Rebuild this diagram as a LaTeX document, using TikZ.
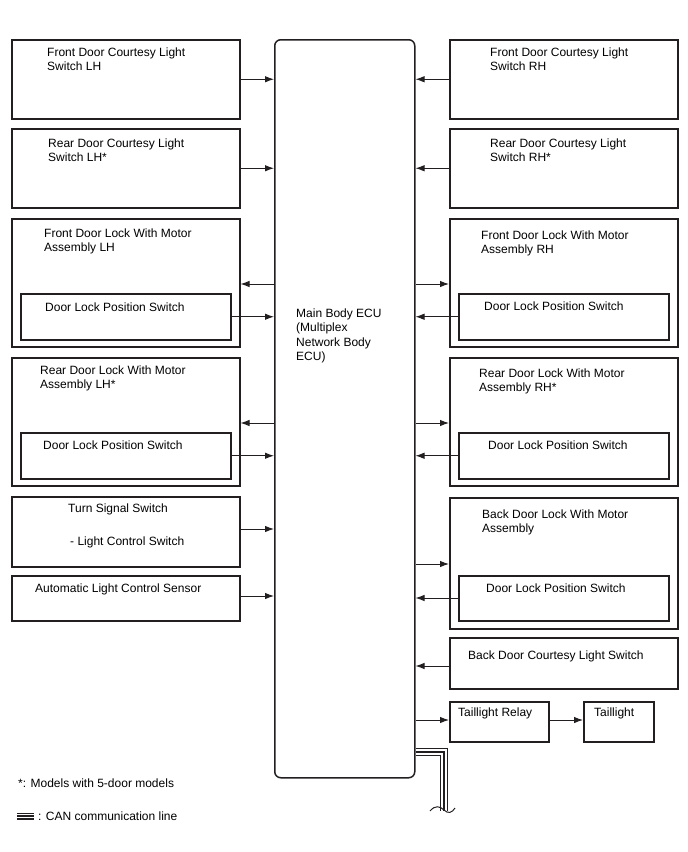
\documentclass[tikz,border=0pt]{standalone}
\usepackage{fontspec}
\setmainfont{Liberation Sans}
\usetikzlibrary{arrows.meta}
\definecolor{ink}{HTML}{231F20}
\tikzset{
  box/.style={draw=ink, line width=1.5pt, rectangle, inner sep=0pt, anchor=north west},
  ecubox/.style={draw=ink, line width=1.5pt, rectangle, rounded corners=6pt, inner sep=0pt, anchor=north west},
  txt/.style={anchor=north west, inner sep=0pt, align=left, font=\fontsize{12}{14.5}\selectfont, text=black},
  arr/.style={draw=ink, line width=0.9pt, -{Latex[length=9pt,width=6.5pt]}},
  can/.style={draw=ink, line width=1.6pt},
}
\begin{document}
\begin{tikzpicture}[x=1pt,y=-1pt]
\path[use as bounding box] (0,0) rectangle (688,852);

% ECU
\node[ecubox, minimum width=140, minimum height=738] (ecu) at (274,39) {};
\node[txt] (ecut) at (296,308.5) {Main Body ECU\\(Multiplex\\Network Body\\ECU)};

% Left column
\node[box, minimum width=228, minimum height=79] (fdcl) at (11,39) {};
\node[txt] (fdclt) at (47,47.5) {Front Door Courtesy Light\\Switch LH};
\node[box, minimum width=228, minimum height=79] (rdcl) at (11,128) {};
\node[txt] (rdclt) at (48,138.5) {Rear Door Courtesy Light\\Switch LH*};
\node[box, minimum width=228, minimum height=128] (fdll) at (11,218) {};
\node[txt] (fdllt) at (44,228.5) {Front Door Lock With Motor\\Assembly LH};
\node[box, minimum width=210, minimum height=46] (fdlls) at (20,293) {};
\node[txt] (fdllst) at (45,302.5) {Door Lock Position Switch};
\node[box, minimum width=228, minimum height=128] (rdll) at (11,357) {};
\node[txt] (rdllt) at (40,365.5) {Rear Door Lock With Motor\\Assembly LH*};
\node[box, minimum width=210, minimum height=46] (rdlls) at (20,432) {};
\node[txt] (rdllst) at (43,440.5) {Door Lock Position Switch};
\node[box, minimum width=228, minimum height=70] (tss) at (11,496) {};
\node[txt] (tsst1) at (68,503.5) {Turn Signal Switch};
\node[txt] (tsst2) at (70,536.5) {- Light Control Switch};
\node[box, minimum width=228, minimum height=45] (alcs) at (11,575) {};
\node[txt] (alcst) at (35,583.5) {Automatic Light Control Sensor};

% Right column
\node[box, minimum width=228, minimum height=79] (fdcr) at (449,39) {};
\node[txt] (fdcrt) at (490,47.5) {Front Door Courtesy Light\\Switch RH};
\node[box, minimum width=228, minimum height=79] (rdcr) at (449,128) {};
\node[txt] (rdcrt) at (490,138.5) {Rear Door Courtesy Light\\Switch RH*};
\node[box, minimum width=228, minimum height=128] (fdlr) at (449,218) {};
\node[txt] (fdlrt) at (481,230.5) {Front Door Lock With Motor\\Assembly RH};
\node[box, minimum width=210, minimum height=46] (fdlrs) at (458,293) {};
\node[txt] (fdlrst) at (484,301.5) {Door Lock Position Switch};
\node[box, minimum width=228, minimum height=128] (rdlr) at (449,357) {};
\node[txt] (rdlrt) at (479,368.5) {Rear Door Lock With Motor\\Assembly RH*};
\node[box, minimum width=210, minimum height=46] (rdlrs) at (458,432) {};
\node[txt] (rdlrst) at (488,440.5) {Door Lock Position Switch};
\node[box, minimum width=228, minimum height=131] (bdl) at (449,497) {};
\node[txt] (bdlt) at (482,509.5) {Back Door Lock With Motor\\Assembly};
\node[box, minimum width=210, minimum height=45] (bdls) at (458,575) {};
\node[txt] (bdlst) at (486,583.5) {Door Lock Position Switch};
\node[box, minimum width=228, minimum height=51] (bdcs) at (449,637) {};
\node[txt] (bdcst) at (468,650.5) {Back Door Courtesy Light Switch};
\node[box, minimum width=99, minimum height=40] (tlr) at (449,701) {};
\node[txt] (tlrt) at (458,707.5) {Taillight Relay};
\node[box, minimum width=70, minimum height=40] (tl) at (583,701) {};
\node[txt] (tlt) at (594,707.5) {Taillight};

% Left connectors
\draw[arr] (fdcl.east) -- (fdcl.east -| ecu.west);
\draw[arr] (rdcl.east) -- (rdcl.east -| ecu.west);
\draw[arr] (ecu.west |- 0,284) -- (fdll.east |- 0,284);
\draw[arr] (fdlls.east) -- (fdlls.east -| ecu.west);
\draw[arr] (ecu.west |- 0,423) -- (rdll.east |- 0,423);
\draw[arr] (rdlls.east) -- (rdlls.east -| ecu.west);
\draw[arr] (tss.east |- 0,529) -- (ecu.west |- 0,529);
\draw[arr] (alcs.east |- 0,596) -- (ecu.west |- 0,596);

% Right connectors
\draw[arr] (fdcr.west) -- (fdcr.west -| ecu.east);
\draw[arr] (rdcr.west) -- (rdcr.west -| ecu.east);
\draw[arr] (ecu.east |- 0,284) -- (fdlr.west |- 0,284);
\draw[arr] (fdlrs.west) -- (fdlrs.west -| ecu.east);
\draw[arr] (ecu.east |- 0,423) -- (rdlr.west |- 0,423);
\draw[arr] (rdlrs.west) -- (rdlrs.west -| ecu.east);
\draw[arr] (ecu.east |- 0,564) -- (bdl.west |- 0,564);
\draw[arr] (bdls.west |- 0,598) -- (ecu.east |- 0,598);
\draw[arr] (bdcs.west |- 0,666) -- (ecu.east |- 0,666);
\draw[arr] (ecu.east |- 0,720) -- (tlr.west |- 0,720);
\draw[arr] (tlr.east |- 0,720) -- (tl.west |- 0,720);

% CAN bus
\draw[can] (ecu.east |- 0,748.5) -- (447.5,748.5) -- (447.5,811);
\draw[can] (ecu.east |- 0,752) -- (444,752) -- (444,811);
\draw[can] (ecu.east |- 0,755.5) -- (440.5,755.5) -- (440.5,811);
\draw[draw=ink, line width=1pt] (430,811) .. controls (435,805) and (440,806) .. (444,810) .. controls (448,814) and (452,813) .. (455,808);

% Legend
\node[txt] (note) at (18,778.5) {*: Models with 5-door models};
\draw[can] (17,813.3) -- (34,813.3);
\draw[can] (17,816) -- (34,816);
\draw[can] (17,818.7) -- (34,818.7);
\node[txt] (canlg) at (38,811.5) {: CAN communication line};
\end{tikzpicture}
\end{document}
